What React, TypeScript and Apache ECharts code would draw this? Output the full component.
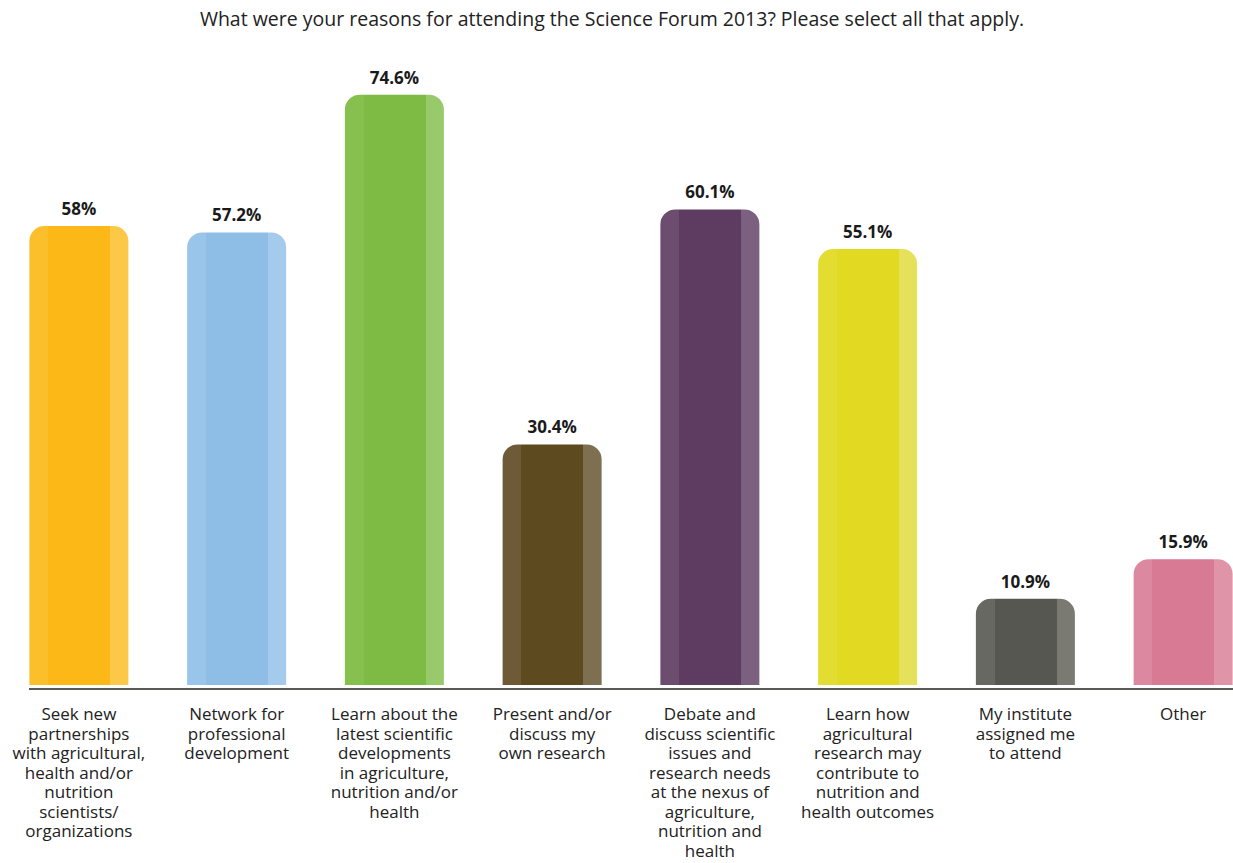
import React, { useEffect, useRef } from "react";
import * as echarts from "echarts";

const title = "What were your reasons for attending the Science Forum 2013? Please select all that apply.";
const categories = [
  "Seek new\npartnerships\nwith agricultural,\nhealth and/or\nnutrition\nscientists/\norganizations",
  "Network for\nprofessional\ndevelopment",
  "Learn about the\nlatest scientific\ndevelopments\nin agriculture,\nnutrition and/or\nhealth",
  "Present and/or\ndiscuss my\nown research",
  "Debate and\ndiscuss scientific\nissues and\nresearch needs\nat the nexus of\nagriculture,\nnutrition and\nhealth",
  "Learn how\nagricultural\nresearch may\ncontribute to\nnutrition and\nhealth outcomes",
  "My institute\nassigned me\nto attend",
  "Other",
];
const values = [58, 57.2, 74.6, 30.4, 60.1, 55.1, 10.9, 15.9];
const valueLabels = ["58%", "57.2%", "74.6%", "30.4%", "60.1%", "55.1%", "10.9%", "15.9%"];
// [left stripe, main, right stripe]
const barColors = [
  ["#fcbf2c", "#fbb817", "#fdc748"],
  ["#99c5ea", "#8ebde6", "#a4cbec"],
  ["#87c04f", "#7dbb44", "#98c96b"],
  ["#6e5a36", "#5e4a1f", "#7e6f50"],
  ["#6c4d70", "#5e3b60", "#7b6080"],
  ["#e3dc31", "#e2da22", "#e6e15a"],
  ["#686862", "#575751", "#7a7a73"],
  ["#dc88a0", "#d87a94", "#e094a8"],
];

export default function App() {
  const ref = useRef<HTMLDivElement>(null);
  useEffect(() => {
    document.body.style.margin = "0";
    const chart = echarts.init(ref.current!, null, { renderer: "svg" });
    const font = "Open Sans";
    chart.setOption({
      animation: false,
      backgroundColor: "#ffffff",
      title: {
        text: title,
        left: 607,
        textAlign: "center",
        top: 3,
        textStyle: { fontFamily: font, fontSize: 19.5, fontWeight: "normal", color: "#222" },
      },
      grid: { left: 0, right: 0, top: 52, bottom: 178, containLabel: false },
      xAxis: {
        type: "category",
        data: categories,
        axisLine: { show: false },
        axisTick: { show: false },
        axisLabel: {
          interval: 0,
          margin: 19,
          fontFamily: font,
          fontSize: 17,
          lineHeight: 19.5,
          color: "#222",
          verticalAlign: "top",
        },
      },
      yAxis: {
        type: "value",
        min: 0,
        max: 80,
        show: false,
        splitLine: { show: false },
      },
      series: [
        {
          type: "bar",
          barWidth: 99,
          data: values.map((v, i) => ({
            value: v,
            itemStyle: {
              borderRadius: [15, 15, 0, 0],
              color: new echarts.graphic.LinearGradient(0, 0, 1, 0, [
                { offset: 0, color: barColors[i][0] },
                { offset: 0.19, color: barColors[i][0] },
                { offset: 0.19, color: barColors[i][1] },
                { offset: 0.815, color: barColors[i][1] },
                { offset: 0.815, color: barColors[i][2] },
                { offset: 1, color: barColors[i][2] },
              ]),
            },
          })),
          label: {
            show: true,
            position: "top",
            distance: 9,
            formatter: (p: any) => valueLabels[p.dataIndex],
            fontFamily: font,
            fontSize: 17,
            fontWeight: "bold",
            color: "#1a1a1a",
          },
        },
      ],
      graphic: [
        {
          type: "line",
          shape: { x1: 29, y1: 689, x2: 1262, y2: 689 },
          style: { stroke: "#5b5b55", lineWidth: 2 },
        },
      ],
    });
    return () => chart.dispose();
  }, []);
  return (
    <div style={{ width: 1233, height: 863, overflow: "hidden", position: "relative" }}>
      <div ref={ref} style={{ width: 1262, height: 863, position: "absolute", left: 0, top: 0 }} />
    </div>
  );
}
